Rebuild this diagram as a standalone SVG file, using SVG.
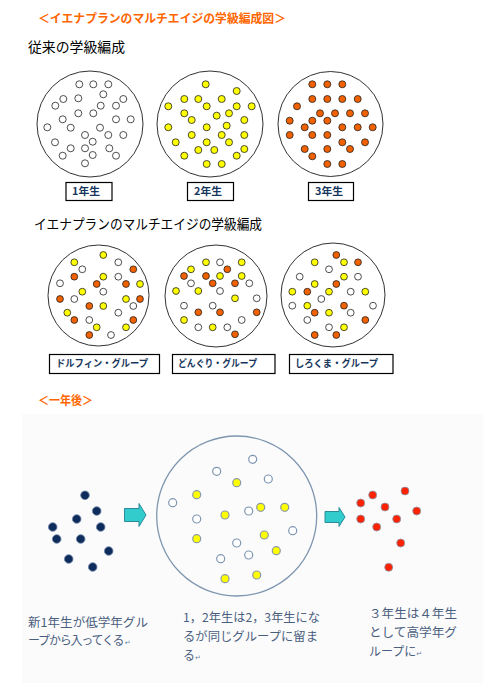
<svg xmlns="http://www.w3.org/2000/svg" width="483" height="683" viewBox="0 0 483 683">
<style>
text{font-family:"Noto Sans CJK JP","Noto Sans",sans-serif}
.title{fill:#FF6600;font-size:12px;font-weight:bold}
.head{fill:#000;font-size:14px}
.big{fill:none;stroke:#333;stroke-width:1}
.w{fill:#fff;stroke:#222;stroke-width:0.8}
.y{fill:#FFFF00;stroke:#222;stroke-width:0.8}
.o{fill:#F26100;stroke:#222;stroke-width:0.8}
.box{fill:#fff;stroke:#000;stroke-width:1.2}
.lbl{fill:#17365D;font-size:10px;font-weight:bold}
.bw{fill:#fff;stroke:#7F96B0;stroke-width:1.2}
.by{fill:#FFFF00;stroke:#8A9AA8;stroke-width:1.2}
.bn{fill:#0E2D5C;stroke:#6F86A6;stroke-width:0.8}
.br{fill:#FF2200;stroke:#8A9AB0;stroke-width:0.8}
.note{fill:#4A5E7E;font-size:12px}
.ret{fill:#6A7E9E;font-size:7px;font-family:"DejaVu Sans",sans-serif}
.arr{fill:#33CCCC;stroke:#2A8A9A;stroke-width:1}
</style>
<rect x="0" y="0" width="483" height="683" fill="#fff"/>
<rect x="22" y="414" width="461" height="269" fill="#FBFBFC"/>

<g id="title"><text class="title" x="38" y="23" textLength="248" lengthAdjust="spacingAndGlyphs">＜イエナプランのマルチエイジの学級編成図＞</text></g>
<g id="heading1"><text class="head" x="28" y="52" textLength="97" lengthAdjust="spacingAndGlyphs">従来の学級編成</text></g>

<g id="grade1">
<circle class="big" cx="90" cy="124" r="53"/>
<g>
<circle class="w" r="3.5" cx="79.3" cy="84.3"/><circle class="w" r="3.5" cx="93.3" cy="84.3"/><circle class="w" r="3.5" cx="108.3" cy="84.3"/>
<circle class="w" r="3.5" cx="103.3" cy="94.3"/><circle class="w" r="3.5" cx="63.3" cy="99"/><circle class="w" r="3.5" cx="78.3" cy="98.3"/>
<circle class="w" r="3.5" cx="123.3" cy="99"/><circle class="w" r="3.5" cx="55.3" cy="105.7"/><circle class="w" r="3.5" cx="100.7" cy="105.7"/>
<circle class="w" r="3.5" cx="116" cy="105.7"/><circle class="w" r="3.5" cx="78.3" cy="113.3"/><circle class="w" r="3.5" cx="93.3" cy="113.3"/>
<circle class="w" r="3.5" cx="62.7" cy="119.3"/><circle class="w" r="3.5" cx="116" cy="119.3"/><circle class="w" r="3.5" cx="130.7" cy="119.3"/>
<circle class="w" r="3.5" cx="47.3" cy="127.3"/><circle class="w" r="3.5" cx="70.7" cy="127.7"/><circle class="w" r="3.5" cx="100" cy="127.7"/>
<circle class="w" r="3.5" cx="85" cy="135"/><circle class="w" r="3.5" cx="108.3" cy="135"/><circle class="w" r="3.5" cx="123.3" cy="135"/>
<circle class="w" r="3.5" cx="92.7" cy="141.7"/><circle class="w" r="3.5" cx="55" cy="142.3"/><circle class="w" r="3.5" cx="70.7" cy="148.3"/>
<circle class="w" r="3.5" cx="85" cy="148.3"/><circle class="w" r="3.5" cx="109.3" cy="148.3"/><circle class="w" r="3.5" cx="62.7" cy="155.7"/>
<circle class="w" r="3.5" cx="92.7" cy="155"/><circle class="w" r="3.5" cx="116" cy="155.7"/><circle class="w" r="3.5" cx="85" cy="163.3"/>
</g>
<rect class="box" x="66" y="182.5" width="46" height="18"/>
<text class="lbl" x="72" y="195" textLength="28" lengthAdjust="spacingAndGlyphs">1年生</text>
</g>

<g id="grade2">
<circle class="big" cx="210" cy="124" r="53"/>
<g>
<circle class="y" r="3.5" cx="205.7" cy="84.3"/><circle class="y" r="3.5" cx="236.7" cy="91"/><circle class="y" r="3.5" cx="184.3" cy="99"/>
<circle class="y" r="3.5" cx="198.3" cy="99"/><circle class="y" r="3.5" cx="221.7" cy="99"/><circle class="y" r="3.5" cx="168.3" cy="106.3"/>
<circle class="y" r="3.5" cx="206.7" cy="106.3"/><circle class="y" r="3.5" cx="236.7" cy="106.3"/><circle class="y" r="3.5" cx="251.7" cy="106.3"/>
<circle class="y" r="3.5" cx="184.3" cy="113.3"/><circle class="y" r="3.5" cx="229" cy="113.3"/><circle class="y" r="3.5" cx="216.7" cy="115.7"/>
<circle class="y" r="3.5" cx="191.7" cy="120"/><circle class="y" r="3.5" cx="244.3" cy="120"/><circle class="y" r="3.5" cx="226.7" cy="125.7"/>
<circle class="y" r="3.5" cx="168.3" cy="127.3"/><circle class="y" r="3.5" cx="206.7" cy="127.3"/><circle class="y" r="3.5" cx="191.7" cy="135"/>
<circle class="y" r="3.5" cx="221.7" cy="135"/><circle class="y" r="3.5" cx="244.3" cy="135"/><circle class="y" r="3.5" cx="175.7" cy="142.3"/>
<circle class="y" r="3.5" cx="206.7" cy="142.3"/><circle class="y" r="3.5" cx="229" cy="142.3"/><circle class="y" r="3.5" cx="198.3" cy="150"/>
<circle class="y" r="3.5" cx="214.3" cy="150"/><circle class="y" r="3.5" cx="244.3" cy="149"/><circle class="y" r="3.5" cx="236.7" cy="155.7"/>
<circle class="y" r="3.5" cx="184.3" cy="155.7"/><circle class="y" r="3.5" cx="206.7" cy="164"/><circle class="y" r="3.5" cx="221.7" cy="164"/>
</g>
<rect class="box" x="187.5" y="182.5" width="46" height="18"/>
<text class="lbl" x="194" y="195" textLength="28" lengthAdjust="spacingAndGlyphs">2年生</text>
</g>

<g id="grade3">
<circle class="big" cx="330.5" cy="124" r="52.5"/>
<g>
<circle class="o" r="3.5" cx="312.3" cy="84.3"/><circle class="o" r="3.5" cx="327.3" cy="84.3"/><circle class="o" r="3.5" cx="342.3" cy="84.3"/>
<circle class="o" r="3.5" cx="312.3" cy="99"/><circle class="o" r="3.5" cx="327.3" cy="99"/><circle class="o" r="3.5" cx="342.3" cy="99"/>
<circle class="o" r="3.5" cx="357.7" cy="99"/><circle class="o" r="3.5" cx="297" cy="106.3"/><circle class="o" r="3.5" cx="320" cy="113.3"/>
<circle class="o" r="3.5" cx="335" cy="113.3"/><circle class="o" r="3.5" cx="350" cy="113.3"/><circle class="o" r="3.5" cx="365" cy="113.3"/>
<circle class="o" r="3.5" cx="289.7" cy="120.7"/><circle class="o" r="3.5" cx="312.3" cy="120.7"/><circle class="o" r="3.5" cx="327.3" cy="120.7"/>
<circle class="o" r="3.5" cx="304.7" cy="127.3"/><circle class="o" r="3.5" cx="342.3" cy="127.3"/><circle class="o" r="3.5" cx="357.7" cy="127.3"/>
<circle class="o" r="3.5" cx="372.7" cy="127.3"/><circle class="o" r="3.5" cx="289.7" cy="135"/><circle class="o" r="3.5" cx="312.3" cy="135"/>
<circle class="o" r="3.5" cx="327.3" cy="135"/><circle class="o" r="3.5" cx="342.3" cy="142.3"/><circle class="o" r="3.5" cx="365" cy="142.3"/>
<circle class="o" r="3.5" cx="304.7" cy="149"/><circle class="o" r="3.5" cx="327.3" cy="149"/><circle class="o" r="3.5" cx="350" cy="149"/>
<circle class="o" r="3.5" cx="312.3" cy="156.3"/><circle class="o" r="3.5" cx="327.3" cy="164"/><circle class="o" r="3.5" cx="342.3" cy="164"/>
</g>
<rect class="box" x="308.5" y="182.5" width="45" height="18"/>
<text class="lbl" x="315" y="195" textLength="28" lengthAdjust="spacingAndGlyphs">3年生</text>
</g>

<g id="heading2"><text class="head" x="34" y="229" textLength="228" lengthAdjust="spacingAndGlyphs">イエナプランのマルチエイジの学級編成</text></g>

<g id="dolphin">
<circle class="big" cx="98.5" cy="295.5" r="50.5"/>
<g>
<circle class="y" r="3.4" cx="103.3" cy="255"/><circle class="y" r="3.4" cx="74.3" cy="262.3"/><circle class="w" r="3.4" cx="118.3" cy="262.3"/>
<circle class="w" r="3.4" cx="82.3" cy="269.3"/><circle class="o" r="3.4" cx="133.3" cy="269.3"/><circle class="o" r="3.4" cx="74.3" cy="276.7"/>
<circle class="y" r="3.4" cx="103.3" cy="276.7"/><circle class="w" r="3.4" cx="118.3" cy="276.7"/><circle class="w" r="3.4" cx="60" cy="283.3"/>
<circle class="o" r="3.4" cx="96.7" cy="284"/><circle class="o" r="3.4" cx="126" cy="284"/><circle class="y" r="3.4" cx="140" cy="284"/>
<circle class="y" r="3.4" cx="82.3" cy="291.7"/><circle class="w" r="3.4" cx="103.3" cy="291.7"/><circle class="o" r="3.4" cx="60" cy="299"/>
<circle class="w" r="3.4" cx="74.3" cy="299"/><circle class="y" r="3.4" cx="126" cy="299"/><circle class="o" r="3.4" cx="140" cy="299"/>
<circle class="o" r="3.4" cx="89.3" cy="306"/><circle class="y" r="3.4" cx="103.3" cy="306"/><circle class="w" r="3.4" cx="133.3" cy="306"/>
<circle class="y" r="3.4" cx="67.3" cy="312.7"/><circle class="w" r="3.4" cx="118.3" cy="312.7"/><circle class="o" r="3.4" cx="74.3" cy="320"/>
<circle class="w" r="3.4" cx="89.3" cy="320"/><circle class="o" r="3.4" cx="133.3" cy="320"/><circle class="y" r="3.4" cx="96.7" cy="327.3"/>
<circle class="y" r="3.4" cx="126" cy="327.3"/><circle class="o" r="3.4" cx="89.3" cy="335"/><circle class="w" r="3.4" cx="111" cy="335"/>
</g>
<rect class="box" x="49.5" y="354.5" width="110" height="19"/>
<text class="lbl" x="56" y="367" textLength="92" lengthAdjust="spacingAndGlyphs">ドルフィン・グループ</text>
</g>

<g id="acorn">
<circle class="big" cx="216" cy="296" r="51"/>
<g>
<circle class="y" r="3.4" cx="206" cy="262.3"/><circle class="w" r="3.4" cx="220" cy="262.3"/><circle class="y" r="3.4" cx="241.7" cy="262.3"/>
<circle class="y" r="3.4" cx="191" cy="269.3"/><circle class="o" r="3.4" cx="227.3" cy="269.3"/><circle class="o" r="3.4" cx="184" cy="276"/>
<circle class="o" r="3.4" cx="206" cy="276"/><circle class="y" r="3.4" cx="220" cy="276"/><circle class="y" r="3.4" cx="241.7" cy="276"/>
<circle class="w" r="3.4" cx="191" cy="283.3"/><circle class="o" r="3.4" cx="212.7" cy="283.3"/><circle class="o" r="3.4" cx="235" cy="283.3"/>
<circle class="w" r="3.4" cx="249.3" cy="283.3"/><circle class="y" r="3.4" cx="176" cy="291"/><circle class="y" r="3.4" cx="198.3" cy="291"/>
<circle class="w" r="3.4" cx="220" cy="291"/><circle class="y" r="3.4" cx="235" cy="298.3"/><circle class="w" r="3.4" cx="256.7" cy="298.3"/>
<circle class="w" r="3.4" cx="184" cy="305.7"/><circle class="w" r="3.4" cx="212.7" cy="305.7"/><circle class="o" r="3.4" cx="198.3" cy="312.3"/>
<circle class="o" r="3.4" cx="220" cy="312.3"/><circle class="o" r="3.4" cx="256.7" cy="312.3"/><circle class="y" r="3.4" cx="184" cy="320"/>
<circle class="w" r="3.4" cx="241.7" cy="320"/><circle class="w" r="3.4" cx="198.3" cy="327.3"/><circle class="y" r="3.4" cx="212.7" cy="327.3"/>
<circle class="w" r="3.4" cx="227.3" cy="327.3"/><circle class="o" r="3.4" cx="235" cy="334.3"/>
</g>
<rect class="box" x="172.5" y="354.5" width="102.5" height="19"/>
<text class="lbl" x="178" y="367" textLength="79" lengthAdjust="spacingAndGlyphs">どんぐり・グループ</text>
</g>

<g id="polarbear">
<circle class="big" cx="333" cy="295" r="52"/>
<g>
<circle class="o" r="3.4" cx="336.3" cy="255"/><circle class="y" r="3.4" cx="314.7" cy="262.3"/><circle class="y" r="3.4" cx="344" cy="262.3"/>
<circle class="o" r="3.4" cx="358" cy="262.3"/><circle class="w" r="3.4" cx="329" cy="269.3"/><circle class="w" r="3.4" cx="299.7" cy="276.7"/>
<circle class="y" r="3.4" cx="344" cy="276.7"/><circle class="w" r="3.4" cx="358" cy="276.7"/><circle class="y" r="3.4" cx="314.7" cy="284"/>
<circle class="o" r="3.4" cx="336.3" cy="284"/><circle class="y" r="3.4" cx="292.3" cy="291.7"/><circle class="o" r="3.4" cx="307.3" cy="291.7"/>
<circle class="y" r="3.4" cx="329" cy="291.7"/><circle class="w" r="3.4" cx="350.7" cy="291.7"/><circle class="y" r="3.4" cx="365.3" cy="291.7"/>
<circle class="w" r="3.4" cx="321.3" cy="299"/><circle class="w" r="3.4" cx="292.3" cy="305.7"/><circle class="y" r="3.4" cx="307.3" cy="305.7"/>
<circle class="o" r="3.4" cx="344" cy="305.7"/><circle class="w" r="3.4" cx="373" cy="305.7"/><circle class="o" r="3.4" cx="314.7" cy="312.7"/>
<circle class="y" r="3.4" cx="329" cy="312.7"/><circle class="w" r="3.4" cx="350.7" cy="312.7"/><circle class="w" r="3.4" cx="307.3" cy="320"/>
<circle class="o" r="3.4" cx="365.3" cy="320"/><circle class="w" r="3.4" cx="329" cy="327.3"/><circle class="y" r="3.4" cx="344" cy="327.3"/>
<circle class="o" r="3.4" cx="314.7" cy="335"/><circle class="o" r="3.4" cx="336.3" cy="335"/>
</g>
<rect class="box" x="289.5" y="354.5" width="103.5" height="19"/>
<text class="lbl" x="295" y="367" textLength="83" lengthAdjust="spacingAndGlyphs">しろくま・グループ</text>
</g>

<g id="heading3"><text class="title" x="38" y="405" textLength="55" lengthAdjust="spacingAndGlyphs">＜一年後＞</text></g>

<g id="newcomers">
<circle class="bn" r="4.3" cx="85" cy="495.3"/><circle class="bn" r="4.3" cx="96.7" cy="511"/><circle class="bn" r="4.3" cx="76.7" cy="519"/>
<circle class="bn" r="4.3" cx="52.7" cy="527"/><circle class="bn" r="4.3" cx="100.7" cy="527"/><circle class="bn" r="4.3" cx="56.7" cy="539"/>
<circle class="bn" r="4.3" cx="80.7" cy="539"/><circle class="bn" r="4.3" cx="108.7" cy="551"/><circle class="bn" r="4.3" cx="68.7" cy="559"/>
<circle class="bn" r="4.3" cx="92.7" cy="567"/>
</g>

<g id="mixedgroup">
<circle cx="236.7" cy="516" r="80" fill="none" stroke="#7F96B0" stroke-width="1.3"/>
<circle class="bw" r="4" cx="252.7" cy="459.3"/><circle class="bw" r="4" cx="216.7" cy="471.3"/><circle class="by" r="4" cx="236.7" cy="482.7"/>
<circle class="bw" r="4" cx="268.3" cy="479"/><circle class="by" r="4" cx="196.7" cy="494.7"/><circle class="bw" r="4" cx="172.7" cy="502.7"/>
<circle class="by" r="4" cx="225" cy="515"/><circle class="bw" r="4" cx="248.7" cy="511"/><circle class="by" r="4" cx="260.7" cy="507.3"/>
<circle class="by" r="4" cx="284.7" cy="507.3"/><circle class="bw" r="4" cx="196.7" cy="519"/><circle class="by" r="4" cx="196.7" cy="538.7"/>
<circle class="by" r="4" cx="264.3" cy="535"/><circle class="bw" r="4" cx="292.7" cy="530.7"/><circle class="bw" r="4" cx="236.7" cy="543"/>
<circle class="bw" r="4" cx="248.7" cy="555"/><circle class="by" r="4" cx="276.3" cy="550.7"/><circle class="bw" r="4" cx="220.7" cy="558.7"/>
<circle class="by" r="4" cx="225" cy="578.7"/><circle class="by" r="4" cx="256.7" cy="575"/>
</g>

<g id="seniors">
<circle class="br" r="4" cx="372.7" cy="495"/><circle class="br" r="4" cx="405" cy="491"/><circle class="br" r="4" cx="360.7" cy="503"/>
<circle class="br" r="4" cx="385" cy="507"/><circle class="br" r="4" cx="416.7" cy="511"/><circle class="br" r="4" cx="360.7" cy="519"/>
<circle class="br" r="4" cx="396.7" cy="519"/><circle class="br" r="4" cx="376.7" cy="527"/><circle class="br" r="4" cx="400.7" cy="543"/>
<circle class="br" r="4" cx="388.7" cy="567.3"/>
</g>

<g id="connectors">
<path class="arr" d="M124.5,508.5 H139 V503.5 L146,515 L139,526.5 V521.5 H124.5 Z"/>
<path class="arr" d="M325,511.5 H339 V507.5 L345,517 L339,526.5 V522.5 H325 Z"/>
</g>

<g id="note1">
<text class="note" x="28" y="627" textLength="120" lengthAdjust="spacingAndGlyphs">新1年生が低学年グル</text>
<text class="note" x="28" y="645" letter-spacing="-1.2">ープから入ってくる<tspan class="ret" letter-spacing="0" dx="1.5">↵</tspan></text>
</g>
<g id="note2">
<text class="note" x="183" y="622" textLength="137" lengthAdjust="spacingAndGlyphs">1，2年生は2，3年生にな</text>
<text class="note" x="183" y="641" textLength="135" lengthAdjust="spacingAndGlyphs">るが同じグループに留ま</text>
<text class="note" x="183" y="660">る<tspan class="ret">↵</tspan></text>
</g>
<g id="note3">
<text class="note" x="369" y="618" textLength="88" lengthAdjust="spacingAndGlyphs">３年生は４年生</text>
<text class="note" x="369" y="637" textLength="88" lengthAdjust="spacingAndGlyphs">として高学年グ</text>
<text class="note" x="369" y="656">ループに<tspan class="ret">↵</tspan></text>
</g>
</svg>
